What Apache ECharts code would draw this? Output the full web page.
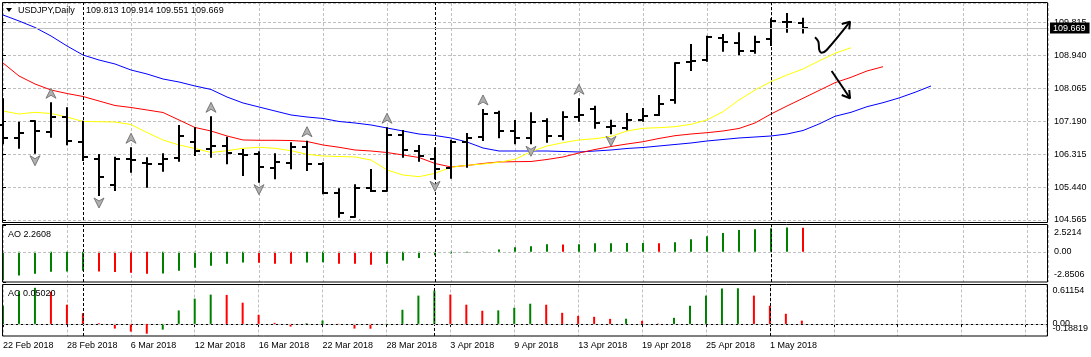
<!DOCTYPE html>
<html><head><meta charset="utf-8">
<script src="https://cdn.jsdelivr.net/npm/echarts@6/dist/echarts.min.js"></script>
<style>html,body{margin:0;padding:0;background:#fff}#c{width:1091px;height:357px}</style>
</head><body><div id="c"></div>
<script>
// ---------------- data ----------------
const symbolName = 'USDJPY,Daily';
const dates = ['22 Feb 2018','23 Feb 2018','26 Feb 2018','27 Feb 2018','28 Feb 2018','1 Mar 2018','2 Mar 2018','5 Mar 2018','6 Mar 2018','7 Mar 2018',
 '8 Mar 2018','9 Mar 2018','12 Mar 2018','13 Mar 2018','14 Mar 2018','15 Mar 2018','16 Mar 2018','19 Mar 2018','20 Mar 2018','21 Mar 2018',
 '22 Mar 2018','23 Mar 2018','26 Mar 2018','27 Mar 2018','28 Mar 2018','29 Mar 2018','30 Mar 2018','2 Apr 2018','3 Apr 2018','4 Apr 2018',
 '5 Apr 2018','6 Apr 2018','9 Apr 2018','10 Apr 2018','11 Apr 2018','12 Apr 2018','13 Apr 2018','16 Apr 2018','17 Apr 2018','18 Apr 2018',
 '19 Apr 2018','20 Apr 2018','23 Apr 2018','24 Apr 2018','25 Apr 2018','26 Apr 2018','27 Apr 2018','30 Apr 2018','1 May 2018','2 May 2018','3 May 2018'];
const open = [107.100,106.754,107.190,106.913,107.312,106.632,106.187,105.496,106.179,106.073,106.046,106.206,106.632,106.445,106.533,106.312,106.312,105.940,106.089,106.499,106.054,105.275,104.653,105.408,105.344,106.826,106.408,106.179,105.940,106.647,106.780,107.403,106.940,106.754,107.198,106.799,107.312,107.509,107.046,107.020,107.225,107.358,107.757,108.775,108.820,109.398,109.280,109.068,109.371,109.839,109.813];
const high = [107.775,107.153,107.190,107.669,107.536,107.179,106.294,106.222,106.472,106.206,106.312,107.065,107.004,107.296,106.754,106.427,106.366,106.312,106.605,106.647,106.073,105.381,105.488,105.895,107.004,106.932,106.533,106.472,106.674,106.852,107.491,107.445,107.198,107.403,107.243,107.429,107.775,107.578,107.206,107.384,107.517,107.863,108.733,109.219,109.440,109.485,109.530,109.440,109.903,110.044,109.914];
const low = [106.605,106.488,106.355,106.780,106.578,106.161,105.230,105.363,105.850,105.451,105.876,106.142,106.294,106.249,106.073,105.762,105.584,105.674,105.940,105.895,105.275,104.653,104.653,105.336,105.344,106.249,106.142,105.674,105.690,105.983,106.693,106.765,106.605,106.605,106.647,106.711,107.206,107.020,106.871,106.977,107.206,107.358,107.685,108.554,108.802,109.068,108.972,109.014,109.219,109.573,109.551];
const close = [106.754,106.871,106.940,107.312,106.674,106.249,105.717,106.195,106.161,106.054,106.179,106.799,106.408,106.541,106.339,106.294,105.983,106.100,106.514,106.054,105.275,104.743,105.424,105.344,106.826,106.427,106.267,105.913,106.647,106.754,107.384,106.940,106.754,107.163,106.799,107.296,107.358,107.137,107.060,107.225,107.339,107.642,108.733,108.794,109.440,109.307,109.068,109.307,109.866,109.839,109.669];
// Alligator lines (blue jaw, red teeth, yellow lips), read per bar, extending past the last bar
const jaw = [110.017,109.858,109.685,109.459,109.193,108.953,108.820,108.714,108.554,108.448,108.315,108.235,108.129,108.036,107.836,107.677,107.570,107.464,107.358,107.304,107.265,107.185,107.145,107.092,107.012,106.932,106.852,106.812,106.746,106.639,106.480,106.400,106.400,106.400,106.400,106.387,106.374,106.400,106.427,106.467,106.493,106.533,106.573,106.613,106.666,106.706,106.746,106.772,106.799,106.852,106.945,107.118,107.323,107.429,107.578,107.685,107.810,107.961,108.129];
const teeth = [108.741,108.395,108.182,108.022,107.929,107.850,107.730,107.610,107.557,107.491,107.424,107.225,107.025,106.932,106.799,106.693,106.685,106.685,106.679,106.653,106.560,106.499,106.427,106.400,106.360,106.294,106.227,106.068,105.975,106.014,106.068,106.108,106.116,106.121,106.174,106.241,106.347,106.440,106.520,106.586,106.647,106.733,106.807,106.852,106.887,106.932,106.999,107.145,107.384,107.597,107.802,108.009,108.217,108.360,108.528,108.642];
const lips = [107.464,107.384,107.429,107.397,107.304,107.185,107.179,107.171,107.105,106.892,106.693,106.560,106.467,106.360,106.408,106.472,106.499,106.472,106.408,106.312,106.267,106.254,106.241,106.161,105.895,105.762,105.717,105.807,105.967,106.020,106.054,106.100,106.179,106.382,106.533,106.621,106.693,106.727,106.786,106.932,107.004,107.020,107.046,107.110,107.225,107.445,107.757,108.022,108.243,108.421,108.581,108.794,108.999,109.147];
const fractalUp = [3, 8, 13, 19, 24, 30, 36];
const fractalDown = [2, 6, 16, 22, 27, 33, 38];
const ao = [-2.66,-2.24,-2.08,-1.89,-1.86,-1.79,-1.87,-1.90,-1.98,-2.08,-2.05,-1.79,-1.50,-1.31,-1.12,-1.02,-1.04,-1.12,-1.13,-1.02,-1.00,-1.12,-1.13,-1.22,-1.12,-0.83,-0.58,-0.32,-0.16,-0.06,0.02,0.22,0.42,0.51,0.70,0.68,0.70,0.80,0.81,0.82,0.83,0.80,0.90,1.18,1.47,1.76,2.05,2.13,2.22,2.29,2.2608];
const ac = [0.282,0.506,0.560,0.500,0.298,0.167,0.010,-0.073,-0.120,-0.152,-0.089,0.209,0.392,0.455,0.450,0.329,0.141,0.016,-0.042,0.010,0.052,-0.016,-0.073,-0.075,-0.008,0.219,0.439,0.517,0.455,0.298,0.204,0.210,0.251,0.313,0.298,0.172,0.125,0.110,0.078,0.080,0.047,0.005,0.094,0.282,0.439,0.549,0.553,0.439,0.282,0.157,0.0502];
const monthStarts = [5, 27, 48];
const priceScale = [104.565, 110.336];  // visible price range (bottom grid line .. top)
const priceStep = 0.875;
const aoScale = [-2.8506, 2.5214];
const acScale = [-0.18819, 0.61154];
const aoTickLabels = ['-2.8506', '0.00', '2.5214'];
const acTickLabels = ['-0.18819', '0.00', '0.61154'];
// hand-drawn arrows (bar index, price)
const arrowUpPath = [[50.75,109.424],[50.96,109.307],[51.02,109.086],[51.17,109.014],[51.48,109.086],[52.94,109.839]];
const arrowUpHead = [[52.42,109.778],[52.94,109.839],[52.89,109.637]];
const arrowDownPath = [[51.79,108.528],[52.94,107.802]];
const arrowDownHead = [[52.42,107.890],[52.94,107.802],[52.89,108.022]];

// ---------------- chart ----------------
const FONT = '"Liberation Sans", Arial, sans-serif';
const GRID_C = '#c0c0c0';
const XMAX = 65.3125;
const last = dates.length - 1;
const lastPrice = close[last];

const chart = echarts.init(document.getElementById('c'));

function xAxisFor(gi, showLabels) {
  return {
    gridIndex: gi, type: 'value', min: 0, max: XMAX, interval: 4,
    axisLine: { show: showLabels, lineStyle: { color: '#000' } },
    axisTick: { show: showLabels, length: 3, lineStyle: { color: '#000' } },
    axisLabel: { show: showLabels, fontSize: 9, fontFamily: FONT, color: '#000', align: 'left', margin: 5,
      showMaxLabel: false, showMinLabel: true,
      formatter: v => (Number.isInteger(v) && dates[v]) ? dates[v] : '' },
    splitLine: { show: true, lineStyle: { color: GRID_C, type: [3, 2], width: 1 } }
  };
}
function near(a, b) { return Math.abs(a - b) < 1e-6; }
// AO pane: max label sits below the top edge, min label above the bottom edge
function aoLabel(v) {
  if (near(v, aoScale[1])) return '{top|\u00a0}\n{top|' + aoTickLabels[2] + '}';
  if (near(v, aoScale[0])) return '{bot|' + aoTickLabels[0] + '}\n{bot|\u00a0}';
  if (near(v, 0)) return aoTickLabels[1];
  return '';
}
// AC pane: the zero label and the min label overlap (as in the terminal), so they are drawn together
function acLabel(v) {
  if (near(v, acScale[1])) return '{top|\u00a0}\n{top|' + acTickLabels[2] + '}';
  if (near(v, acScale[0])) return '{z|' + acTickLabels[1] + '}\n{m|' + acTickLabels[0] + '}\n{pad|\u00a0}';
  return '';
}
const richBase = { fontSize: 9, fontFamily: FONT, color: '#000' };
const rb = h => Object.assign({ lineHeight: h }, richBase);

function sepLines(extra) {
  const data = monthStarts.map(i => ({ xAxis: i }));
  return {
    silent: true, symbol: 'none', animation: false,
    label: { show: false },
    lineStyle: { color: '#000', type: [3, 2], width: 1 },
    data: data.concat(extra || [])
  };
}
function colorsOf(arr) {
  return arr.map((v, i) => (i === 0 || v >= arr[i - 1]) ? '#008000' : '#ff0000');
}
const aoColors = colorsOf(ao), acColors = colorsOf(ac);

function renderOHLC(params, api) {
  const x = api.value(0);
  const o = api.coord([x, api.value(1)]);
  const h = api.coord([x, api.value(2)]);
  const l = api.coord([x, api.value(3)]);
  const c = api.coord([x, api.value(4)]);
  const px = Math.round(h[0]);
  const st = { stroke: '#000', lineWidth: 2 };
  const oy = Math.round(o[1]), cy = Math.round(c[1]);
  return { type: 'group', children: [
    { type: 'line', shape: { x1: px, y1: h[1] - 1, x2: px, y2: l[1] + 1 }, style: st },
    { type: 'line', shape: { x1: px - 5, y1: oy, x2: px, y2: oy }, style: st },
    { type: 'line', shape: { x1: px, y1: cy, x2: px + 5, y2: cy }, style: st }
  ] };
}
function renderFractal(dir) {
  return function (params, api) {
    const p = api.coord([api.value(0), api.value(1)]);
    const cx = Math.round(p[0]);
    const cy = dir > 0 ? p[1] - 10 : p[1] + 8;
    const pts = dir > 0
      ? [[cx, cy - 5], [cx + 5, cy + 5], [cx, cy + 2], [cx - 5, cy + 5]]
      : [[cx, cy + 5], [cx + 5, cy - 5], [cx, cy - 2], [cx - 5, cy - 5]];
    return { type: 'polygon', shape: { points: pts }, style: { fill: '#b0b0b0', stroke: '#787878', lineWidth: 1 } };
  };
}
const maLine = (name, arr, color) => ({
  name, type: 'line', xAxisIndex: 0, yAxisIndex: 0, symbol: 'none', silent: true,
  data: arr.map((v, i) => [i, v]), lineStyle: { color, width: 1 }, z: 2
});
const drawLine = (arr, smooth) => ({
  type: 'line', xAxisIndex: 0, yAxisIndex: 0, symbol: 'none', silent: true, smooth: smooth,
  data: arr, lineStyle: { color: '#000', width: 2 }, z: 6
});

const option = {
  animation: false,
  backgroundColor: '#fff',
  textStyle: { fontFamily: FONT },
  grid: [
    { left: 3, right: 43, top: 3, height: 217 },
    { left: 3, right: 43, top: 225, height: 57 },
    { left: 3, right: 43, top: 284.5, height: 51.5 }
  ],
  xAxis: [xAxisFor(0, false), xAxisFor(1, false), xAxisFor(2, true)],
  yAxis: [
    { gridIndex: 0, type: 'value', position: 'right', min: priceScale[0], max: priceScale[1], interval: priceStep,
      axisLine: { show: false }, axisTick: { show: true, length: 3, lineStyle: { color: '#000' } },
      axisLabel: { fontSize: 9, fontFamily: FONT, color: '#000', margin: 6, showMinLabel: true, showMaxLabel: false, formatter: v => v.toFixed(3) },
      splitLine: { show: true, lineStyle: { color: GRID_C, type: [3, 2] } } },
    { gridIndex: 1, type: 'value', position: 'right', min: aoScale[0], max: aoScale[1], interval: -aoScale[0],
      axisLine: { show: false }, axisTick: { show: true, length: 3, lineStyle: { color: '#000' } },
      axisLabel: { fontSize: 9, fontFamily: FONT, color: '#000', margin: 6, showMinLabel: true, showMaxLabel: true,
        formatter: aoLabel, rich: { top: rb(15), bot: rb(15) } },
      splitLine: { show: false } },
    { gridIndex: 2, type: 'value', position: 'right', min: acScale[0], max: acScale[1], interval: -acScale[0],
      axisLine: { show: false }, axisTick: { show: false },
      axisLabel: { fontSize: 9, fontFamily: FONT, color: '#000', margin: 6, showMinLabel: true, showMaxLabel: true,
        formatter: acLabel, rich: { top: rb(13), z: rb(5), m: rb(5), pad: rb(19) } },
      splitLine: { show: false } }
  ],
  series: [
    maLine('Jaw', jaw, '#0000ff'),
    maLine('Teeth', teeth, '#ff0000'),
    maLine('Lips', lips, '#ffff00'),
    { name: 'USDJPY', type: 'custom', xAxisIndex: 0, yAxisIndex: 0, renderItem: renderOHLC, z: 4, silent: true,
      encode: { x: 0, y: [1, 2, 3, 4] },
      data: dates.map((d, i) => [i, open[i], high[i], low[i], close[i]]),
      markLine: sepLines([{ yAxis: lastPrice, lineStyle: { color: '#c0c0c0', type: 'solid', width: 1 },
        label: { show: true, position: 'end', formatter: lastPrice.toFixed(3), color: '#fff', backgroundColor: '#000',
          fontSize: 9, fontFamily: FONT, padding: [1, 4, 1, 3], distance: 2 } }]) },
    { type: 'custom', xAxisIndex: 0, yAxisIndex: 0, renderItem: renderFractal(1), clip: true, z: 5, silent: true,
      encode: { x: 0, y: 1 }, data: fractalUp.map(i => [i, high[i]]) },
    { type: 'custom', xAxisIndex: 0, yAxisIndex: 0, renderItem: renderFractal(-1), clip: true, z: 5, silent: true,
      encode: { x: 0, y: 1 }, data: fractalDown.map(i => [i, low[i]]) },
    drawLine(arrowUpPath, 0.35),
    drawLine(arrowUpHead, false),
    drawLine(arrowDownPath, false),
    drawLine(arrowDownHead, false),
    { name: 'AO', type: 'bar', xAxisIndex: 1, yAxisIndex: 1, barWidth: 2, silent: true,
      data: ao.map((v, i) => ({ value: [i, v], itemStyle: { color: aoColors[i] } })),
      markLine: sepLines([{ yAxis: 0, lineStyle: { color: GRID_C, type: [3, 2] } }]) },
    { name: 'AC', type: 'bar', xAxisIndex: 2, yAxisIndex: 2, barWidth: 2, silent: true,
      data: ac.map((v, i) => ({ value: [i, v], itemStyle: { color: acColors[i] } })),
      markLine: sepLines([{ yAxis: 0, lineStyle: { color: GRID_C, type: [3, 2] } }]) }
  ],
  graphic: [
    { type: 'rect', z: 100, shape: { x: 2.5, y: 2.5, width: 1045, height: 220 }, style: { fill: 'none', stroke: '#000', lineWidth: 1 } },
    { type: 'rect', z: 100, shape: { x: 2.5, y: 224.5, width: 1045, height: 57.5 }, style: { fill: 'none', stroke: '#000', lineWidth: 1 } },
    { type: 'rect', z: 100, shape: { x: 2.5, y: 284.5, width: 1045, height: 51.5 }, style: { fill: 'none', stroke: '#000', lineWidth: 1 } },
    { type: 'polygon', z: 100, shape: { points: [[6, 8], [12, 8], [9, 12]] }, style: { fill: '#000' } },
    { type: 'text', z: 100, x: 18, y: 10.5, style: { text: symbolName, font: '9px ' + FONT, fill: '#000', verticalAlign: 'middle' } },
    { type: 'text', z: 100, x: 86, y: 10.5, style: { text: [open[last], high[last], low[last], close[last]].map(v => v.toFixed(3)).join(' '),
      font: '9px ' + FONT, fill: '#000', verticalAlign: 'middle' } },
    { type: 'text', z: 100, x: 8, y: 235, style: { text: 'AO ' + ao[last].toFixed(4), font: '9px ' + FONT, fill: '#000', verticalAlign: 'middle' } },
    { type: 'text', z: 100, x: 8, y: 293.5, style: { text: 'AC ' + ac[last].toFixed(5), font: '9px ' + FONT, fill: '#000', verticalAlign: 'middle' } }
  ]
};
chart.setOption(option);
</script>
</body></html>
